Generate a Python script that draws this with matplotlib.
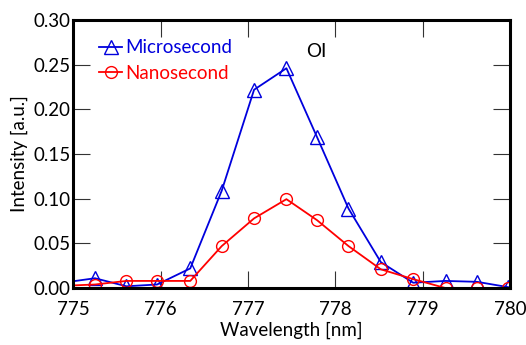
import matplotlib.pyplot as plt

plt.rcParams['font.family'] = ['Lato', 'DejaVu Sans']

wavelength = [774.88, 775.25, 775.61, 775.96, 776.34, 776.70, 777.07, 777.44,
              777.79, 778.15, 778.52, 778.89, 779.26, 779.62, 779.98]
micro = [0.006, 0.011, 0.002, 0.004, 0.022, 0.109, 0.222, 0.246,
         0.169, 0.089, 0.029, 0.006, 0.008, 0.007, 0.001]
nano = [0.0025, 0.004, 0.008, 0.008, 0.008, 0.047, 0.078, 0.0995,
        0.076, 0.047, 0.021, 0.010, 0.000, 0.000, 0.000]

fig = plt.figure(figsize=(5.26, 3.45), dpi=100)
ax = fig.add_axes([0.139, 0.165, 0.831, 0.777])

ax.plot(wavelength, micro, color='#0000dd', lw=1.3, marker='^', ms=9.5,
        mfc='none', mec='#0000dd', mew=1.0, label='Microsecond')
ax.plot(wavelength, nano, color='#ff0000', lw=1.3, marker='o', ms=8.5,
        mfc='none', mec='#ff0000', mew=1.0, label='Nanosecond')

ax.set_xlim(775, 780)
ax.set_ylim(0, 0.30)
ax.set_xticks([775, 776, 777, 778, 779, 780])
ax.set_yticks([0, 0.05, 0.10, 0.15, 0.20, 0.25, 0.30])
ax.set_yticklabels(['0.00', '0.05', '0.10', '0.15', '0.20', '0.25', '0.30'])
ax.tick_params(direction='in', length=12, width=0.8, color='#333333',
               top=True, right=True, labelsize=13.5)
ax.tick_params(axis='x', pad=9)
ax.tick_params(axis='y', pad=2)
for s in ax.spines.values():
    s.set_linewidth(2.2)

ax.set_xlabel('Wavelength [nm]', fontsize=13.5, labelpad=3)
ax.set_ylabel('Intensity [a.u.]', fontsize=13.5, labelpad=4)

leg = ax.legend(loc='upper left', frameon=False, fontsize=13.5,
                handlelength=1.2, handletextpad=0.2, labelspacing=0.45,
                borderpad=0.0, borderaxespad=0.0, bbox_to_anchor=(0.06, 0.928))
for t, c in zip(leg.get_texts(), ['#0000dd', '#ff0000']):
    t.set_color(c)

ax.text(777.78, 0.265, 'OI', fontsize=13.5, ha='center', va='center')

fig.savefig('out.png', dpi=100)
